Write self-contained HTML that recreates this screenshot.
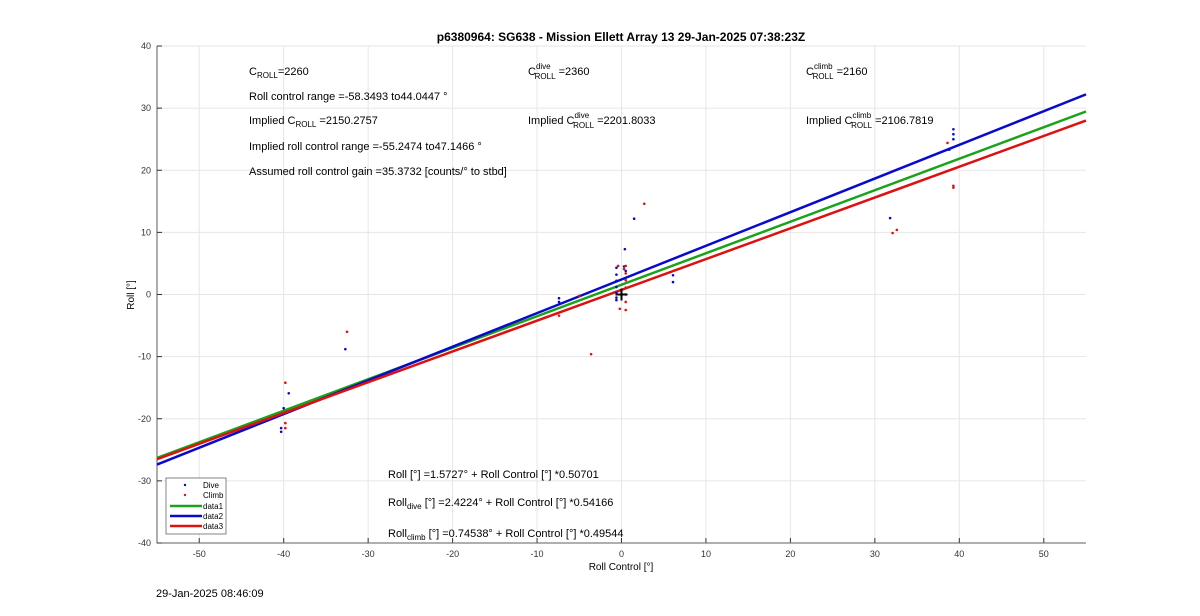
<!DOCTYPE html>
<html><head><meta charset="utf-8"><style>
body{margin:0;background:#fff;font-family:"Liberation Sans",sans-serif}
svg text{font-family:"Liberation Sans",sans-serif}
</style></head><body>
<svg width="1200" height="611">
<script>
const xTicks=[-50,-40,-30,-20,-10,0,10,20,30,40,50];
const yTicks=[-40,-30,-20,-10,0,10,20,30,40];
const diveX=[-40.3,-40.3,-40,-39.4,-32.7,-7.4,-7.4,0.4,1.5,6.1,6.1,31.8,39.3,39.3,39.3,38.8,-0.6,-0.6,-0.6,-0.6,-0.6,-0.6,-0.6,0.3,0.5];
const diveY=[-22.1,-21.5,-18.3,-15.9,-8.8,-0.6,-1.2,7.3,12.2,2.0,3.1,12.3,26.6,25.8,25.0,23.3,4.3,3.2,2.2,1.2,0.3,-0.5,-0.9,4.5,3.8];
const climbX=[-39.8,-39.8,-39.8,-39.6,-32.5,-3.6,2.7,32.1,32.6,39.3,39.3,38.6,-7.4,-5.0,0.5,0.5,0.5,0.5,0.5,0.5,0.5,-0.2,0.3,-0.4];
const climbY=[-14.2,-20.7,-21.5,-18.9,-6.0,-9.6,14.6,9.9,10.4,17.5,17.2,24.4,-3.4,-0.2,4.6,3.4,2.3,1.1,0.0,-1.2,-2.5,-2.3,4.1,4.6];
const fitNames=['data1','data2','data3'];
const fitB=[1.5727,2.4224,0.74538];
const fitM=[0.50701,0.54166,0.49544];
const fitColors=['#1aa31a','#0a0acc','#dd1111'];
</script>
<g id="plot"></g>
<text x="621" y="41" text-anchor="middle" font-size="12" font-weight="bold">p6380964: SG638 - Mission Ellett Array 13 29-Jan-2025 07:38:23Z</text>
<text x="621" y="570" text-anchor="middle" font-size="10">Roll Control [°]</text>
<text x="134" y="295" text-anchor="middle" font-size="10" transform="rotate(-90 134 295)">Roll [°]</text>
<g font-size="11">
<text x="249" y="75">C<tspan font-size="8" dy="3">ROLL</tspan><tspan dy="-3">=2260</tspan></text>
<text x="249" y="100">Roll control range =-58.3493 to44.0447 °</text>
<text x="249" y="124">Implied C<tspan font-size="8" dy="3">ROLL</tspan><tspan dy="-3"> =2150.2757</tspan></text>
<text x="249" y="150">Implied roll control range =-55.2474 to47.1466 °</text>
<text x="249" y="175">Assumed roll control gain =35.3732 [counts/° to stbd]</text>
<text x="528" y="75">C<tspan font-size="8" dy="-6">dive</tspan><tspan font-size="8" dx="-16" dy="10">ROLL</tspan><tspan dy="-4"> =2360</tspan></text>
<text x="528" y="124">Implied C<tspan font-size="8" dy="-6">dive</tspan><tspan font-size="8" dx="-16" dy="10">ROLL</tspan><tspan dy="-4"> =2201.8033</tspan></text>
<text x="806" y="75">C<tspan font-size="8" dy="-6">climb</tspan><tspan font-size="8" dx="-20" dy="10">ROLL</tspan><tspan dy="-4"> =2160</tspan></text>
<text x="806" y="124">Implied C<tspan font-size="8" dy="-6">climb</tspan><tspan font-size="8" dx="-20" dy="10">ROLL</tspan><tspan dy="-4"> =2106.7819</tspan></text>
<text x="388" y="478">Roll [°] =1.5727° + Roll Control [°] *0.50701</text>
<text x="388" y="506">Roll<tspan font-size="8" dy="3">dive</tspan><tspan dy="-3"> [°] =2.4224° + Roll Control [°] *0.54166</tspan></text>
<text x="388" y="537">Roll<tspan font-size="8" dy="3">climb</tspan><tspan dy="-3"> [°] =0.74538° + Roll Control [°] *0.49544</tspan></text>
</g>
<text x="156" y="597" font-size="11">29-Jan-2025 08:46:09</text>
<g>
<rect x="166" y="478" width="60" height="56" fill="#fff" stroke="#333" stroke-width="0.6"/>
<circle cx="185" cy="485" r="1.2" fill="#0a0acc"/><text x="203" y="488" font-size="8">Dive</text>
<circle cx="185" cy="495" r="1.2" fill="#dd1111"/><text x="203" y="498" font-size="8">Climb</text>
<line x1="170" y1="506" x2="202" y2="506" stroke="#1aa31a" stroke-width="2.5"/><text x="203" y="509" font-size="8">data1</text>
<line x1="170" y1="516" x2="202" y2="516" stroke="#0a0acc" stroke-width="2.5"/><text x="203" y="519" font-size="8">data2</text>
<line x1="170" y1="526" x2="202" y2="526" stroke="#dd1111" stroke-width="2.5"/><text x="203" y="529" font-size="8">data3</text>
</g>
<script>
const NS='http://www.w3.org/2000/svg';
const L=157,R=1086,T=46,B=543,XMIN=-55,XMAX=55,YMIN=-40,YMAX=40;
const sx=v=>L+(v-XMIN)/(XMAX-XMIN)*(R-L);
const sy=v=>B-(v-YMIN)/(YMAX-YMIN)*(B-T);
const g=document.getElementById('plot');
function mk(t,a){const e=document.createElementNS(NS,t);for(const k in a)e.setAttribute(k,a[k]);g.appendChild(e);return e;}
const bg=mk('rect',{x:L,y:T,width:R-L,height:B-T,fill:'#fff'});


xTicks.forEach(v=>{
 const l=mk('line',{x1:sx(v),x2:sx(v),y1:T,y2:B,stroke:'#e6e6e6','stroke-width':1});
 
 
 mk('line',{x1:sx(v),x2:sx(v),y1:B,y2:B-5,stroke:'#333'});
 const t=mk('text',{x:sx(v),y:B+14,'text-anchor':'middle','font-size':9,fill:'#333'});t.textContent=v;
 
 
});
yTicks.forEach(v=>{
 const l=mk('line',{x1:L,x2:R,y1:sy(v),y2:sy(v),stroke:'#e6e6e6','stroke-width':1});
 
 
 mk('line',{x1:L,x2:L+5,y1:sy(v),y2:sy(v),stroke:'#333'});
 const t=mk('text',{x:L-6,y:sy(v)+3,'text-anchor':'end','font-size':9,fill:'#333'});t.textContent=v;
 
 
});
const ax=mk('path',{d:`M${L},${T}V${B}H${R}`,fill:'none',stroke:'#333','stroke-width':0.8});


fitNames.forEach((n,i)=>{
 const l=mk('line',{x1:sx(XMIN),y1:sy(fitB[i]+fitM[i]*XMIN),x2:sx(XMAX),y2:sy(fitB[i]+fitM[i]*XMAX),stroke:fitColors[i],'stroke-width':2.5});
 
 
});
diveX.forEach((x,i)=>{
 const c=mk('circle',{cx:sx(x),cy:sy(diveY[i]),r:1.3,fill:'#0a0acc'});
 
 
});
climbX.forEach((x,i)=>{
 const c=mk('circle',{cx:sx(x),cy:sy(climbY[i]),r:1.3,fill:'#dd1111'});
 
 
});
const cr=mk('path',{d:`M${sx(0)-6},${sy(0)}h12M${sx(0)},${sy(0)-6}v12`,stroke:'#000','stroke-width':2});


</script>
</svg>
</body></html>
